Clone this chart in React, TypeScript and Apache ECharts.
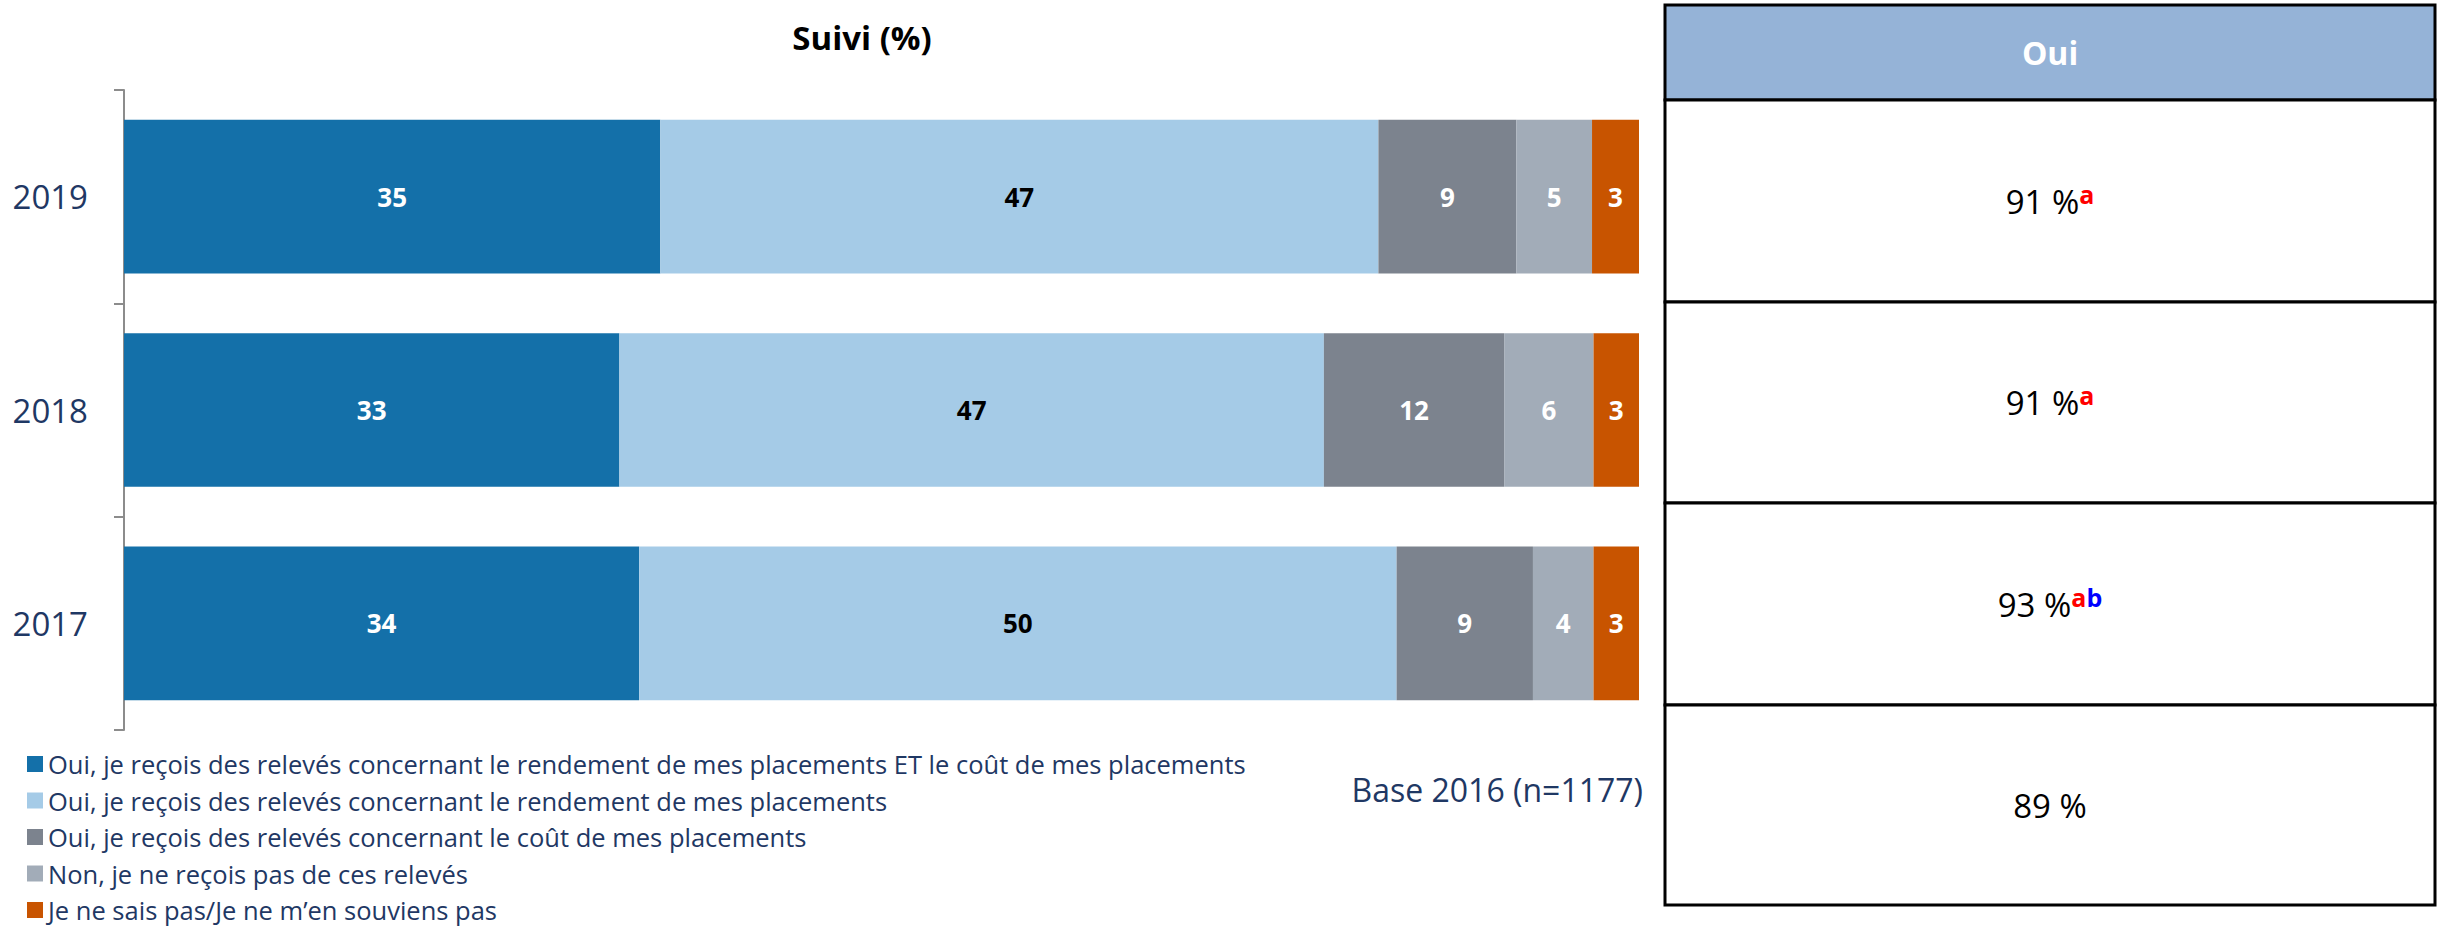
import React, { useEffect, useRef } from "react";
import * as echarts from "echarts";

const years = ["2019", "2018", "2017"];
const seriesNames = [
  "Oui, je reçois des relevés concernant le rendement de mes placements ET le coût de mes placements",
  "Oui, je reçois des relevés concernant le rendement de mes placements",
  "Oui, je reçois des relevés concernant le coût de mes placements",
  "Non, je ne reçois pas de ces relevés",
  "Je ne sais pas/Je ne m’en souviens pas",
];
const bothValues = [35.4, 32.7, 34.0];
const rendementValues = [47.4, 46.5, 50.0];
const coutValues = [9.1, 11.9, 9.0];
const nonValues = [5.0, 5.9, 4.0];
const nspValues = [3.1, 3.0, 3.0];
const seriesColors = ["#1470a9", "#a5cbe7", "#7c838e", "#a2acb8", "#c85400"];
const labelColors = ["#ffffff", "#000000", "#ffffff", "#ffffff", "#ffffff"];

const tableHeader = "Oui";
const tableYears = ["2019", "2018", "2017", "2016"];
const ouiValues = [91, 91, 93, 89];
const ouiSupA = ["a", "a", "a", ""];
const ouiSupB = ["", "", "b", ""];
const titleText = "Suivi (%)";
const baseText = "Base 2016 (n=1177)";

const FONT = "'Open Sans', 'Noto Sans', sans-serif";

export default function App() {
  const ref = useRef<HTMLDivElement>(null);
  useEffect(() => {
    document.body.style.margin = "0";
    if (!ref.current) return;
    const chart = echarts.init(ref.current, null, { renderer: "svg" });
    const allValues = [bothValues, rendementValues, coutValues, nonValues, nspValues];

    const tableLeft = 1665;
    const tableRight = 2435;
    const tableW = tableRight - tableLeft;
    const rowLines = [5, 100, 302, 503, 705, 905];
    const graphics: any[] = [];
    graphics.push({
      type: "text",
      x: 862,
      y: 37,
      style: {
        text: titleText,
        font: `bold 33px ${FONT}`,
        fill: "#000",
        textAlign: "center",
        textVerticalAlign: "middle",
      },
    });
    graphics.push({
      type: "text",
      x: 1643,
      y: 789,
      style: {
        text: baseText,
        font: `32px ${FONT}`,
        fill: "#1f3864",
        textAlign: "right",
        textVerticalAlign: "middle",
      },
    });
    graphics.push({
      type: "rect",
      shape: { x: tableLeft, y: rowLines[0], width: tableW, height: rowLines[1] - rowLines[0] },
      style: { fill: "#95b3d7", stroke: "#000", lineWidth: 3 },
    });
    graphics.push({
      type: "text",
      x: tableLeft + tableW / 2,
      y: (rowLines[0] + rowLines[1]) / 2,
      style: {
        text: tableHeader,
        font: `bold 32px ${FONT}`,
        fill: "#fff",
        textAlign: "center",
        textVerticalAlign: "middle",
      },
    });
    tableYears.forEach((_, i) => {
      const top = rowLines[i + 1];
      const bottom = rowLines[i + 2];
      graphics.push({
        type: "rect",
        shape: { x: tableLeft, y: top, width: tableW, height: bottom - top },
        style: { fill: "#fff", stroke: "#000", lineWidth: 3 },
      });
      let txt = `{v|${ouiValues[i]} %}`;
      if (ouiSupA[i]) txt += `{a|${ouiSupA[i]}}`;
      if (ouiSupB[i]) txt += `{b|${ouiSupB[i]}}`;
      graphics.push({
        type: "text",
        x: tableLeft + tableW / 2,
        y: (top + bottom) / 2,
        style: {
          text: txt,
          textAlign: "center",
          textVerticalAlign: "middle",
          rich: {
            v: { fontFamily: FONT, fontSize: 33, lineHeight: 40, fill: "#000" } as any,
            a: {
              fontFamily: FONT,
              fontSize: 25,
              fontWeight: "bold",
              lineHeight: 24,
              verticalAlign: "top",
              fill: "#ff0000",
            } as any,
            b: {
              fontFamily: FONT,
              fontSize: 25,
              fontWeight: "bold",
              lineHeight: 24,
              verticalAlign: "top",
              fill: "#0000ff",
            } as any,
          },
        },
      });
    });

    chart.setOption({
      animation: false,
      textStyle: { fontFamily: FONT },
      grid: { left: 124, right: 801, top: 90, height: 640, containLabel: false },
      xAxis: { type: "value", min: 0, max: 100, show: false },
      yAxis: {
        type: "category",
        data: years,
        inverse: true,
        axisLine: { show: true, lineStyle: { color: "#8c8c8c", width: 2 } },
        axisTick: { show: true, length: 10, lineStyle: { color: "#8c8c8c", width: 2 } },
        axisLabel: { fontSize: 33, color: "#1f3864", margin: 36, fontFamily: FONT },
      },
      legend: {
        orient: "vertical",
        left: 27,
        top: 751,
        height: 177,
        padding: 0,
        itemWidth: 16,
        itemHeight: 16,
        itemGap: 10.5,
        icon: "rect",
        data: seriesNames,
        textStyle: { fontSize: 25.5, lineHeight: 24, color: "#1f3864", fontFamily: FONT },
      },
      series: seriesNames.map((name, si) => ({
        name,
        type: "bar",
        stack: "total",
        barCategoryGap: "28%",
        data: allValues[si],
        itemStyle: { color: seriesColors[si] },
        label: {
          show: true,
          position: "inside",
          color: labelColors[si],
          fontWeight: "bold",
          fontSize: 26,
          fontFamily: FONT,
          formatter: (p: any) => String(Math.round(p.value)),
        },
      })),
      graphic: graphics,
    });
    return () => chart.dispose();
  }, []);
  return <div ref={ref} style={{ width: 2440, height: 928 }} />;
}
